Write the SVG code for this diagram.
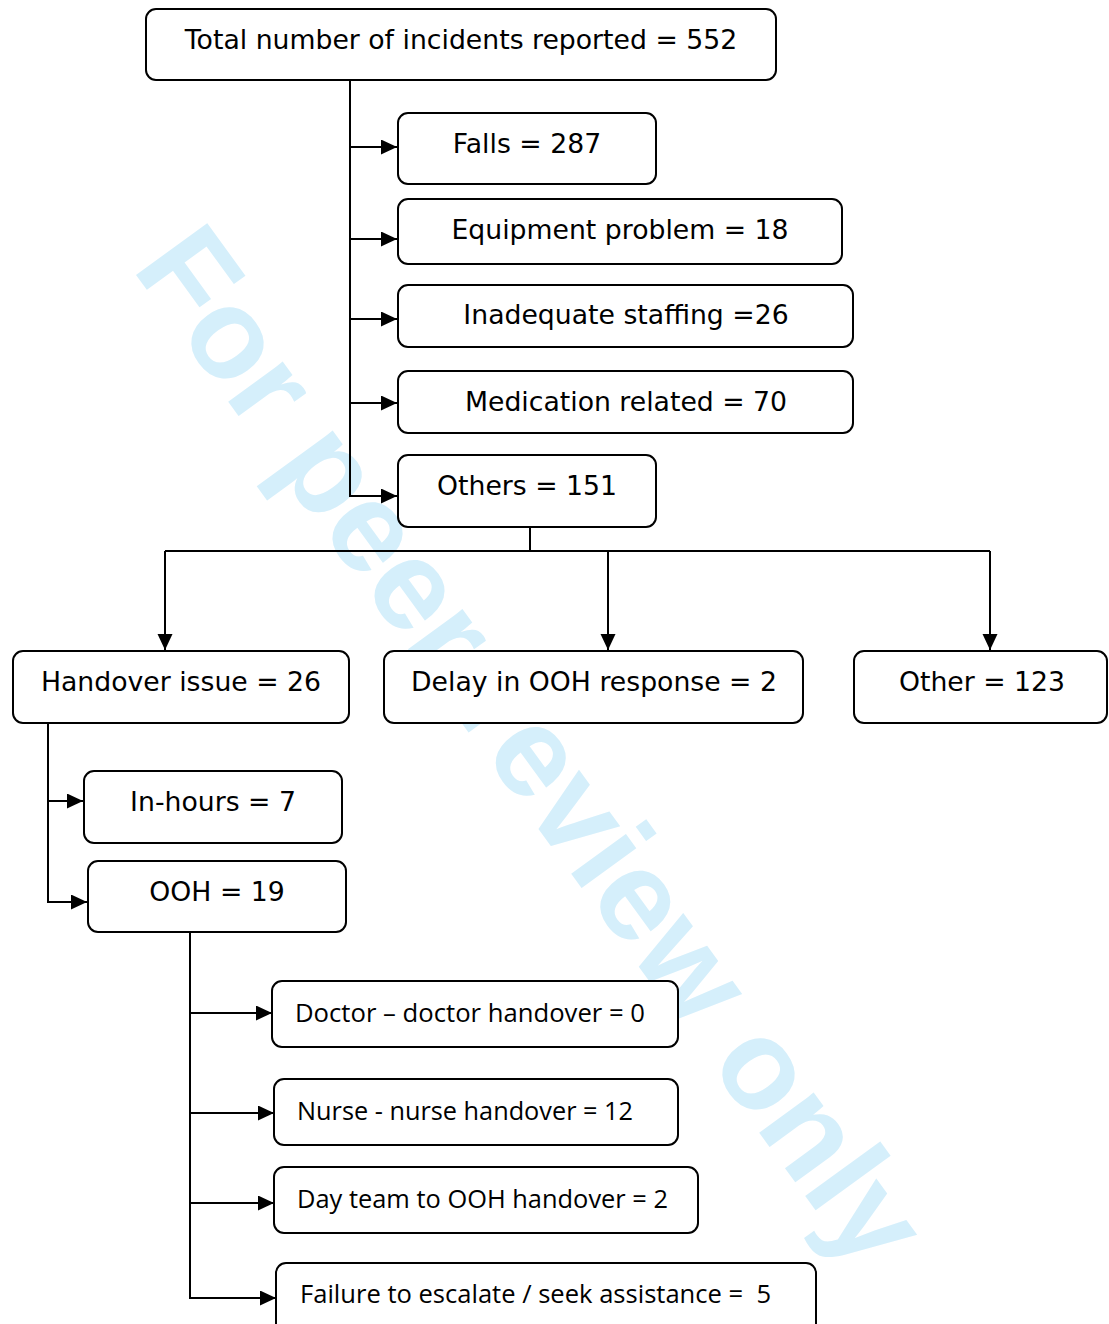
<svg xmlns="http://www.w3.org/2000/svg" width="1109" height="1324" viewBox="0 0 1109 1324">
<style>
.box{fill:#fff;stroke:#000;stroke-width:2}
.t{font-family:"DejaVu Sans",Verdana,sans-serif;font-size:26.7px;fill:#000;text-anchor:middle}
.b{font-family:"Open Sans","Liberation Sans",sans-serif;font-size:25.5px;fill:#000}
.c{fill:none;stroke:#000;stroke-width:2}
.wm{font-family:"Liberation Sans",Arial,sans-serif;font-weight:bold;font-size:128px;fill:#d5effb}
</style>
<defs>
<marker id="ah" markerUnits="userSpaceOnUse" markerWidth="16" markerHeight="16" refX="16" refY="7.5" orient="auto">
<path d="M0,0 L16,7.5 L0,15 z" fill="#000"/>
</marker>
</defs>
<rect width="1109" height="1324" fill="#fff"/>
<text class="wm" transform="translate(131,268) rotate(54)">For peer review only</text>
<g id="connectors">
<path class="c" d="M350,80 V496 H397" marker-end="url(#ah)"/>
<path class="c" d="M350,147 H397" marker-end="url(#ah)"/>
<path class="c" d="M350,239 H397" marker-end="url(#ah)"/>
<path class="c" d="M350,319 H397" marker-end="url(#ah)"/>
<path class="c" d="M350,403 H397" marker-end="url(#ah)"/>
<path class="c" d="M530,527 V551 M165,551 H990"/>
<path class="c" d="M165,551 V650" marker-end="url(#ah)"/>
<path class="c" d="M608,551 V650" marker-end="url(#ah)"/>
<path class="c" d="M990,551 V650" marker-end="url(#ah)"/>
<path class="c" d="M48,723 V902 H87" marker-end="url(#ah)"/>
<path class="c" d="M48,801 H83" marker-end="url(#ah)"/>
<path class="c" d="M190,932 V1298 H276" marker-end="url(#ah)"/>
<path class="c" d="M190,1013 H272" marker-end="url(#ah)"/>
<path class="c" d="M190,1113 H274" marker-end="url(#ah)"/>
<path class="c" d="M190,1203 H274" marker-end="url(#ah)"/>
</g>
<g id="total"><rect class="box" x="146" y="9" width="630" height="71" rx="10"/><text class="t" x="461" y="49">Total number of incidents reported = 552</text></g>
<g id="falls"><rect class="box" x="398" y="113" width="258" height="71" rx="10"/><text class="t" x="527" y="153">Falls = 287</text></g>
<g id="equipment"><rect class="box" x="398" y="199" width="444" height="65" rx="10"/><text class="t" x="620" y="239">Equipment problem = 18</text></g>
<g id="staffing"><rect class="box" x="398" y="285" width="455" height="62" rx="10"/><text class="t" x="626" y="324">Inadequate staffing =26</text></g>
<g id="medication"><rect class="box" x="398" y="371" width="455" height="62" rx="10"/><text class="t" x="626" y="411">Medication related = 70</text></g>
<g id="others"><rect class="box" x="398" y="455" width="258" height="72" rx="10"/><text class="t" x="527" y="495">Others = 151</text></g>
<g id="handover"><rect class="box" x="13" y="651" width="336" height="72" rx="10"/><text class="t" x="181" y="691">Handover issue = 26</text></g>
<g id="delay"><rect class="box" x="384" y="651" width="419" height="72" rx="10"/><text class="t" x="594" y="691">Delay in OOH response = 2</text></g>
<g id="other"><rect class="box" x="854" y="651" width="253" height="72" rx="10"/><text class="t" x="982" y="691">Other = 123</text></g>
<g id="inhours"><rect class="box" x="84" y="771" width="258" height="72" rx="10"/><text class="t" x="213" y="811">In-hours = 7</text></g>
<g id="ooh"><rect class="box" x="88" y="861" width="258" height="71" rx="10"/><text class="t" x="217" y="901">OOH = 19</text></g>
<g id="doctor"><rect class="box" x="272" y="981" width="406" height="66" rx="10"/><text class="b" x="295" y="1022" textLength="350" lengthAdjust="spacingAndGlyphs">Doctor – doctor handover = 0</text></g>
<g id="nurse"><rect class="box" x="274" y="1079" width="404" height="66" rx="10"/><text class="b" x="297" y="1120" textLength="336" lengthAdjust="spacingAndGlyphs">Nurse - nurse handover = 12</text></g>
<g id="dayteam"><rect class="box" x="274" y="1167" width="424" height="66" rx="10"/><text class="b" x="297" y="1208" textLength="371" lengthAdjust="spacingAndGlyphs">Day team to OOH handover = 2</text></g>
<g id="failure"><rect class="box" x="276" y="1263" width="540" height="75" rx="10"/><text class="b" x="300" y="1303" textLength="471" lengthAdjust="spacingAndGlyphs">Failure to escalate / seek assistance = &#160;5</text></g>
</svg>
